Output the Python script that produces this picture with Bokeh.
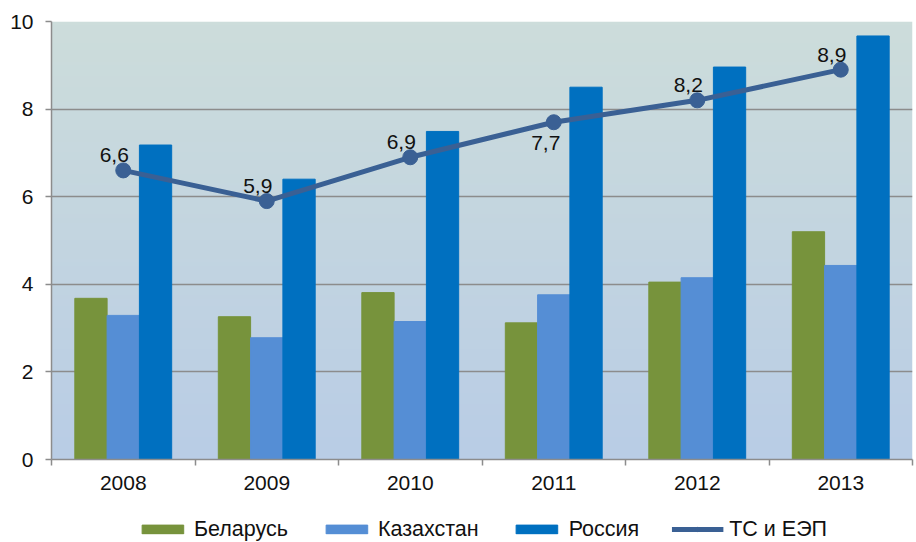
import numpy as np
from bokeh.plotting import figure
from bokeh.layouts import column
from bokeh.models import FixedTicker, Legend, LegendItem, Range1d
from bokeh.core.properties import value
from bokeh.embed import file_html
from bokeh.resources import INLINE

years = ["2008", "2009", "2010", "2011", "2012", "2013"]
belarus = [3.68, 3.26, 3.81, 3.12, 4.05, 5.2]
kazakhstan = [3.29, 2.78, 3.15, 3.76, 4.15, 4.43]
russia = [7.18, 6.4, 7.49, 8.5, 8.96, 9.67]
union = [6.6, 5.9, 6.9, 7.7, 8.2, 8.9]
union_labels = ["6,6", "5,9", "6,9", "7,7", "8,2", "8,9"]
label_below = [False, False, False, True, False, False]
series_names = ["Беларусь", "Казахстан", "Россия", "ТС и ЕЭП"]

FONT = "Liberation Sans"
FS = "21px"
C_BY, C_KZ, C_RU, C_LINE = "#77933C", "#558ED5", "#0070C0", "#3A6094"
x = np.arange(len(years))
bw = 0.225

p = figure(width=916, height=516, frame_width=861, frame_height=438,
           output_backend="svg", toolbar_location=None,
           x_range=Range1d(-0.5, len(years) - 0.5), y_range=Range1d(0, 10),
           min_border_left=51, min_border_top=21, min_border_right=4,
           min_border_bottom=57,
           background_fill_color="white", border_fill_color="white")
p.outline_line_color = None

# gradient background
n = 120
t = np.linspace(0, 1, n)[:, None]
top = np.array([205, 221, 219]); bot = np.array([185, 205, 230])
cols = (bot * (1 - t) + top * t).astype(np.uint32)
img = (np.uint32(255) << 24) | (cols[:, 2] << 16) | (cols[:, 1] << 8) | cols[:, 0]
img = img.reshape(n, 1).astype(np.uint32)
p.image_rgba(image=[img], x=-0.5, y=0, dw=len(years), dh=10, level="image")

p.vbar(x=x - bw, top=belarus, width=bw, color=C_BY)
p.vbar(x=x, top=kazakhstan, width=bw, color=C_KZ)
p.vbar(x=x + bw, top=russia, width=bw, color=C_RU)
p.line(x, union, line_color=C_LINE, line_width=5)
p.scatter(x, union, size=15, fill_color=C_LINE, line_color=C_LINE)

ab = [i for i in range(len(years)) if not label_below[i]]
be = [i for i in range(len(years)) if label_below[i]]
p.text([x[i] for i in ab], [union[i] for i in ab], text=[union_labels[i] for i in ab],
       text_font=value(FONT), text_font_size=FS, text_align="center",
       text_baseline="bottom", x_offset=-9, y_offset=-8, text_color="#111111")
p.text([x[i] for i in be], [union[i] for i in be], text=[union_labels[i] for i in be],
       text_font=value(FONT), text_font_size=FS, text_align="center",
       text_baseline="top", x_offset=-8, y_offset=14, text_color="#111111")

p.xgrid.grid_line_color = None
p.ygrid.grid_line_color = "#8C8C8C"
p.ygrid.grid_line_width = 1.3
p.yaxis.ticker = FixedTicker(ticks=[0, 2, 4, 6, 8, 10])
p.xaxis.ticker = FixedTicker(ticks=[float(v) for v in x],
                             minor_ticks=[float(v) - 0.5 for v in range(len(years) + 1)])
p.xaxis.major_label_overrides = {int(i): years[i] for i in x}
for ax in (p.xaxis[0], p.yaxis[0]):
    ax.axis_line_color = "#8C8C8C"
    ax.axis_line_width = 1.5
    ax.major_tick_line_color = "#8C8C8C"
    ax.minor_tick_line_color = "#8C8C8C"
    ax.major_tick_line_width = 1.5
    ax.minor_tick_line_width = 1.5
    ax.major_label_text_font = FONT
    ax.major_label_text_font_size = FS
    ax.major_label_text_color = "#111111"
p.yaxis.major_tick_out = 6
p.yaxis.major_tick_in = 0
p.yaxis.minor_tick_out = 0
p.yaxis.major_label_standoff = 12
p.xaxis.major_tick_out = 0
p.xaxis.major_tick_in = 0
p.xaxis.minor_tick_out = 6
p.xaxis.minor_tick_in = 0
p.xaxis.major_label_standoff = 10

# legend strip (legend proxies use the same series, drawn outside the visible range)
q = figure(width=916, height=26, output_backend="svg", toolbar_location=None,
           x_range=Range1d(100, 101), y_range=Range1d(100, 101),
           x_axis_type=None, y_axis_type=None, min_border=0, min_border_left=36,
           background_fill_color="white", border_fill_color="white")
q.outline_line_color = None
lb = q.vbar(x=x, top=belarus, width=bw, color=C_BY)
lk = q.vbar(x=x, top=kazakhstan, width=bw, color=C_KZ)
lr = q.vbar(x=x, top=russia, width=bw, color=C_RU)
ll = q.line(x, union, line_color=C_LINE, line_width=5)
lc = q.scatter(x, union, size=15, fill_color=C_LINE, line_color=C_LINE)
legend = Legend(items=[
    LegendItem(label=series_names[0], renderers=[lb], index=0),
    LegendItem(label=series_names[1], renderers=[lk], index=0),
    LegendItem(label=series_names[2], renderers=[lr], index=0),
    LegendItem(label=series_names[3], renderers=[ll, lc]),
], orientation="horizontal", location="center")
legend.label_text_font = FONT
legend.label_text_font_size = "21.5px"
legend.label_text_color = "#111111"
legend.glyph_width = 52
legend.glyph_height = 11
legend.label_height = 20
legend.label_standoff = 6
legend.spacing = 32
legend.padding = 0
legend.margin = 0
legend.border_line_color = None
legend.background_fill_alpha = 0
q.add_layout(legend, "center")

layout = column(p, q, spacing=0)
open("out.html", "w").write(file_html(layout, INLINE))
